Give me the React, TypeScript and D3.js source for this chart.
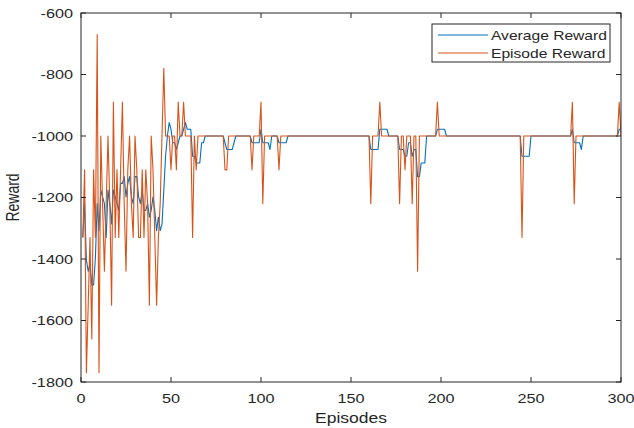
import * as d3 from "d3";

// episode, reward  (flat -1000 stretches only keep their end points)
const episodeReward: [number, number][] = [
  [1, -1330], [2, -1110], [3, -1770], [4, -1550], [5, -1330], [6, -1660], [7, -1110], [8, -1330],
  [9, -670], [10, -1770], [11, -1000], [12, -1220], [13, -1440], [14, -1220], [15, -1000], [16, -1220],
  [17, -1550], [18, -890], [19, -1330], [20, -1110], [21, -1330], [22, -1110], [23, -890], [24, -1220],
  [25, -1440], [26, -1110], [27, -1000], [28, -1220], [29, -1330], [30, -1000], [31, -1110], [32, -1330],
  [33, -1330], [34, -1110], [35, -1330], [36, -1110], [37, -1220], [38, -1550], [39, -1000], [40, -1110],
  [41, -1330], [42, -1550], [43, -1330], [44, -1220], [45, -1000], [46, -780], [47, -1000], [48, -1000],
  [49, -1000], [50, -1110], [51, -1000], [52, -1000], [53, -1110], [54, -890], [55, -1000], [56, -1000],
  [57, -890], [58, -1000], [61, -1000], [62, -1330], [63, -1000], [64, -1110], [65, -1000],
  [79, -1000], [80, -1110], [81, -1110], [82, -1000], [94, -1000], [95, -1110], [96, -1000],
  [99, -1000], [100, -890], [101, -1220], [102, -1000], [109, -1000], [110, -1110], [111, -1000],
  [160, -1000], [161, -1220], [162, -1000], [165, -1000], [166, -890], [167, -1000],
  [176, -1000], [177, -1220], [178, -1000], [179, -1000], [180, -1110], [181, -1000], [183, -1000],
  [184, -1220], [185, -1000], [186, -1000], [187, -1440], [188, -1000], [197, -1000], [198, -890],
  [199, -1000], [244, -1000], [245, -1330], [246, -1000], [272, -1000], [273, -890], [274, -1220],
  [275, -1000], [298, -1000], [299, -890], [300, -1000],
];

const averageReward: [number, number][] = [
  [1, -1330], [2, -1220], [3, -1403], [4, -1440], [5, -1418], [6, -1484], [7, -1484], [8, -1396],
  [9, -1220], [10, -1308], [11, -1176], [12, -1198], [13, -1220], [14, -1330], [15, -1176], [16, -1220],
  [17, -1286], [18, -1176], [19, -1198], [20, -1220], [21, -1242], [22, -1154], [23, -1154], [24, -1132],
  [25, -1198], [26, -1154], [27, -1132], [28, -1198], [29, -1220], [30, -1132], [31, -1132], [32, -1198],
  [33, -1220], [34, -1176], [35, -1242], [36, -1242], [37, -1220], [38, -1264], [39, -1242], [40, -1198],
  [41, -1242], [42, -1308], [43, -1264], [44, -1308], [45, -1286], [46, -1176], [47, -1066], [48, -1000],
  [49, -956], [50, -978], [51, -1022], [52, -1022], [53, -1044], [54, -1022], [55, -1000], [56, -1000],
  [57, -978], [58, -956], [59, -978], [61, -978], [62, -1066], [63, -1066], [64, -1088], [66, -1088],
  [67, -1022], [68, -1022], [69, -1000], [79, -1000], [80, -1022], [81, -1044], [84, -1044], [85, -1022],
  [86, -1000], [94, -1000], [95, -1022], [99, -1022], [100, -978], [101, -1022], [104, -1022],
  [105, -1044], [106, -1000], [109, -1000], [110, -1022], [114, -1022], [115, -1000], [160, -1000],
  [161, -1044], [165, -1044], [166, -978], [170, -978], [171, -1000], [176, -1000], [177, -1044],
  [179, -1044], [180, -1066], [181, -1066], [182, -1022], [183, -1022], [184, -1066], [185, -1044],
  [186, -1044], [187, -1132], [188, -1132], [189, -1088], [191, -1088], [192, -1000], [197, -1000],
  [198, -978], [202, -978], [203, -1000], [244, -1000], [245, -1066], [249, -1066], [250, -1000],
  [272, -1000], [273, -978], [274, -1022], [277, -1022], [278, -1044], [279, -1000], [298, -1000],
  [299, -978], [300, -978],
];

const xTicks = [0, 50, 100, 150, 200, 250, 300];
const yTicks = [-600, -800, -1000, -1200, -1400, -1600, -1800];
const seriesNames = ["Average Reward", "Episode Reward"];
const colors = ["#0072BD", "#D95319"];

const W = 634;
const H = 428;
const m = { left: 81, right: 621, top: 13, bottom: 382 };
const SX = 1.25; // the picture is a bit wider than tall, text too
const axisColor = "#262626";
const font = "'Liberation Sans', Arial, sans-serif";

function Txt(props: {
  x: number;
  y: number;
  size: number;
  anchor?: string;
  rotate?: number;
  children: string;
}) {
  const { x, y, size, anchor = "middle", rotate = 0, children } = props;
  return (
    <text
      transform={`translate(${x},${y}) scale(${SX},1)${rotate ? ` rotate(${rotate})` : ""}`}
      textAnchor={anchor}
      fontSize={size}
      fontFamily={font}
      fill={axisColor}
    >
      {children}
    </text>
  );
}

export default function App() {
  const x = d3.scaleLinear().domain([0, 300]).range([m.left, m.right]);
  const y = d3.scaleLinear().domain([-1800, -600]).range([m.bottom, m.top]);

  const line = d3
    .line<[number, number]>()
    .x((d) => x(d[0]))
    .y((d) => y(d[1]));

  const tick = 5;

  return (
    <svg
      width={W}
      height={H}
      style={{ position: "absolute", left: 0, top: 0, background: "#fff" }}
    >
      <rect x={0} y={0} width={W} height={H} fill="#fff" />
      <defs>
        <clipPath id="plot">
          <rect x={m.left} y={m.top} width={m.right - m.left} height={m.bottom - m.top} />
        </clipPath>
      </defs>

      <g clipPath="url(#plot)" fill="none" strokeWidth={1.1} strokeLinejoin="round">
        <path d={line(averageReward) ?? ""} stroke={colors[0]} />
        <path d={line(episodeReward) ?? ""} stroke={colors[1]} />
      </g>

      {/* box + ticks */}
      <rect
        x={m.left}
        y={m.top}
        width={m.right - m.left}
        height={m.bottom - m.top}
        fill="none"
        stroke={axisColor}
        strokeWidth={1}
      />
      {xTicks.map((t) => (
        <g key={"x" + t} stroke={axisColor} strokeWidth={1}>
          <line x1={x(t)} x2={x(t)} y1={m.bottom} y2={m.bottom - tick} />
          <line x1={x(t)} x2={x(t)} y1={m.top} y2={m.top + tick} />
        </g>
      ))}
      {yTicks.map((t) => (
        <g key={"y" + t} stroke={axisColor} strokeWidth={1}>
          <line x1={m.left} x2={m.left + tick} y1={y(t)} y2={y(t)} />
          <line x1={m.right} x2={m.right - tick} y1={y(t)} y2={y(t)} />
        </g>
      ))}

      {xTicks.map((t) => (
        <Txt key={"xl" + t} x={x(t)} y={m.bottom + 21} size={13}>
          {String(t)}
        </Txt>
      ))}
      {yTicks.map((t) => (
        <Txt key={"yl" + t} x={m.left - 8} y={y(t) + 4.5} size={13} anchor="end">
          {String(t)}
        </Txt>
      ))}

      <Txt x={(m.left + m.right) / 2} y={423} size={14}>
        Episodes
      </Txt>
      <Txt x={19} y={(m.top + m.bottom) / 2} size={14} rotate={-90}>
        Reward
      </Txt>

      {/* legend */}
      <rect x={432} y={24} width={178} height={38} fill="#fff" stroke={axisColor} strokeWidth={1} />
      {seriesNames.map((name, i) => (
        <g key={name}>
          <line
            x1={438}
            x2={488}
            y1={35 + i * 18}
            y2={35 + i * 18}
            stroke={colors[i]}
            strokeWidth={1.1}
          />
          <Txt x={491} y={39.5 + i * 18} size={12.5} anchor="start">
            {name}
          </Txt>
        </g>
      ))}
    </svg>
  );
}
